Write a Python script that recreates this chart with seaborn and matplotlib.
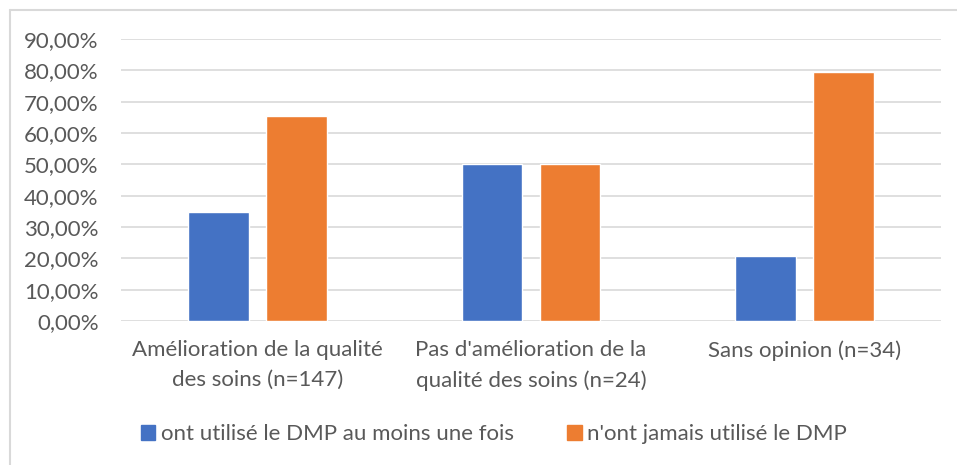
import pandas as pd
import seaborn as sns
import matplotlib.pyplot as plt
from matplotlib.lines import Line2D
from matplotlib.ticker import FuncFormatter

# données
categories = ["Amélioration de la qualité\ndes soins (n=147)",
              "Pas d'amélioration de la\nqualité des soins (n=24)",
              "Sans opinion (n=34)"]
series = ["ont utilisé le DMP au moins une fois", "n'ont jamais utilisé le DMP"]
utilise = [0.3469, 0.50, 0.2059]
jamais = [0.6531, 0.50, 0.7941]
colors = ["#4472C4", "#ED7D31"]

df = pd.DataFrame({
    "cat": categories * 2,
    "groupe": [series[0]] * 3 + [series[1]] * 3,
    "val": utilise + jamais,
})

sns.set_theme(style="white")
plt.rcParams["font.family"] = ["Lato", "DejaVu Sans"]
txt = "#595959"
fs = 16

fig = plt.figure(figsize=(9.57, 4.65), dpi=100)
ax = fig.add_axes([0.1264, 0.3097, 0.8569, 0.6064])

sns.barplot(data=df, x="cat", y="val", hue="groupe", palette=colors,
            width=0.57, gap=0.22, saturation=1, ax=ax, legend=False, zorder=3)

ax.set_ylim(0, 0.9)
ax.set_yticks([i / 10 for i in range(10)])
ax.yaxis.set_major_formatter(FuncFormatter(lambda v, p: f"{v*100:.2f}%".replace(".", ",")))
ax.grid(axis="y", color="#D9D9D9", lw=1.2, zorder=0)
ax.set_axisbelow(True)
for s in ax.spines.values():
    s.set_visible(False)
ax.set_xlabel("")
ax.set_ylabel("")
ax.tick_params(axis="y", length=0, pad=16, labelsize=fs, labelcolor=txt)
ax.tick_params(axis="x", length=0, pad=14, labelsize=fs, labelcolor=txt)
for lab in ax.get_xticklabels():
    lab.set_linespacing(1.6)

handles = [plt.Rectangle((0, 0), 1, 1, color=c) for c in colors]
fig.legend(handles, series, loc="center", bbox_to_anchor=(0.516, 1 - 434 / 465),
           ncol=2, frameon=False, fontsize=fs, labelcolor=txt,
           handlelength=0.65, handleheight=0.65, handletextpad=0.25,
           columnspacing=2.4)

# cadre gris du graphique (haut et gauche)
fig.add_artist(Line2D([10 / 957, 1], [1 - 10 / 465] * 2, color="#D9D9D9", lw=1.5))
fig.add_artist(Line2D([10 / 957] * 2, [0, 1 - 10 / 465], color="#D9D9D9", lw=1.5))

fig.savefig("out.png", dpi=100)
